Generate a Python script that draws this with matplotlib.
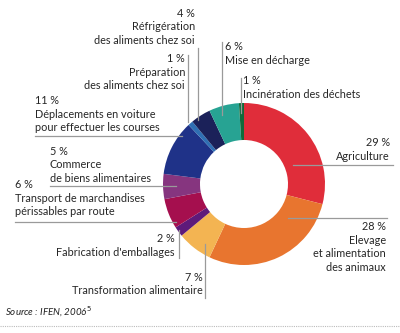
import matplotlib
matplotlib.use('Agg')
import matplotlib.pyplot as plt

# données (IFEN 2006)
labels = ["Agriculture", "Elevage\net alimentation\ndes animaux", "Transformation alimentaire",
          "Fabrication d'emballages", "Transport de marchandises\npérissables par route",
          "Commerce\nde biens alimentaires", "Déplacements en voiture\npour effectuer les courses",
          "Préparation\ndes aliments chez soi", "Réfrigération\ndes aliments chez soi",
          "Mise en décharge", "Incinération des déchets"]
values = [29, 28, 7, 2, 6, 5, 11, 1, 4, 6, 1]
colors = ["#e02d3a", "#e8752f", "#f3b452", "#5e1a7a", "#a50f4e", "#86357f",
          "#1f3288", "#2f6fb3", "#1b2159", "#27a393", "#106b3a"]

# position du texte (x, y haut, alignement) et traits de rappel, en pixels
text_pos = [(390, 137, 'right'), (386, 221, 'right'), (203, 272, 'right'),
            (175, 233, 'right'), (15, 179, 'left'), (50, 146, 'left'),
            (35, 95, 'left'), (185, 53, 'right'), (195, 8, 'right'),
            (225, 41, 'left'), (243, 75, 'left')]
leaders = [((293, 165), (393, 165)), ((288, 218), (387, 218)), ((205, 244), (205, 298)),
           ((179, 230), (179, 258)), ((15, 222), (176, 222)), ((50, 186), (176, 186)),
           ((35, 136), (182, 136)), ((188, 55), (188, 122)), ((198, 48), (198, 120)),
           ((222, 42), (222, 115)), ((241, 78), (241, 113))]

H = 333
plt.rcParams['font.family'] = ['Lato', 'DejaVu Sans']
fig = plt.figure(figsize=(4, 3.33), dpi=100)
ax = fig.add_axes([0, 0, 1, 1])

ax.pie(values, colors=colors, startangle=90, counterclock=False,
       radius=81, center=(244, H - 184),
       wedgeprops=dict(width=37, edgecolor='none'))
ax.set_xlim(0, 400)
ax.set_ylim(0, H)
ax.set_aspect('auto')
ax.axis('off')

for (p0, p1) in leaders:
    ax.plot([p0[0], p1[0]], [H - p0[1], H - p1[1]], color='#9a9a9a', lw=0.9, zorder=3)

for lab, v, (x, y, ha) in zip(labels, values, text_pos):
    ax.text(x, H - y, f"{v} %", ha=ha, va='top', fontsize=7.8, color='#262626')
    ax.text(x, H - y - 13.5, lab, ha=ha, va='top', fontsize=7.8,
            color='#262626', linespacing=1.3, multialignment=ha)

ax.text(5, H - 312, "Source : IFEN, 2006$^5$", ha='left', va='center', fontsize=7,
        style='italic', color='#222222')
ax.plot([0, 400], [H - 326, H - 326], color='#bbbbbb', lw=0.8, ls=(0, (1, 1)))

fig.savefig('out.png', dpi=100)
